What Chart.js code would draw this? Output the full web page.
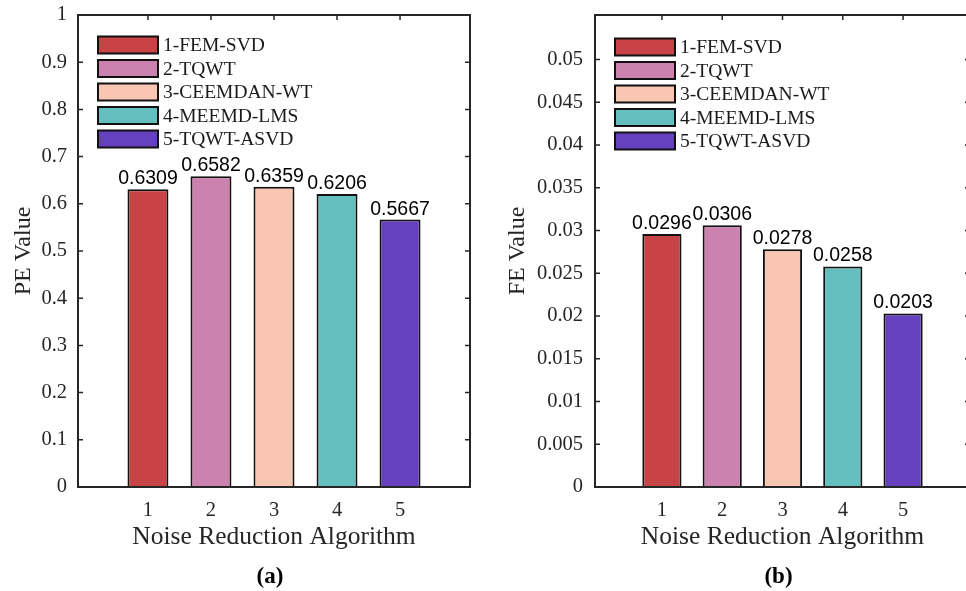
<!DOCTYPE html>
<html>
<head>
<meta charset="utf-8">
<script src="https://cdn.jsdelivr.net/npm/chart.js@4.4.0/dist/chart.umd.min.js"></script>
<style>
  html, body { margin: 0; padding: 0; background: #fff; overflow: hidden; }
  #wrap { position: relative; width: 966px; height: 591px; overflow: hidden; }
  canvas { position: absolute; top: 0; }
  #peChart { left: 0; }
  #feChart { left: 490px; }
</style>
</head>
<body>
<div id="wrap">
  <canvas id="peChart" width="490" height="591"></canvas>
  <canvas id="feChart" width="480" height="591"></canvas>
</div>
<script>
// --- data ---
const algorithms = ['1-FEM-SVD', '2-TQWT', '3-CEEMDAN-WT', '4-MEEMD-LMS', '5-TQWT-ASVD'];
const xTicks = [1, 2, 3, 4, 5];
const peValues = [0.6309, 0.6582, 0.6359, 0.6206, 0.5667];
const feValues = [0.0296, 0.0306, 0.0278, 0.0258, 0.0203];
const peTicks = [0, 0.1, 0.2, 0.3, 0.4, 0.5, 0.6, 0.7, 0.8, 0.9, 1];
const feTicks = [0, 0.005, 0.01, 0.015, 0.02, 0.025, 0.03, 0.035, 0.04, 0.045, 0.05];
const barColors = ['#C84346', '#CB82AE', '#F9C6B3', '#64BFBE', '#6541BF'];

const SERIF = '"Liberation Serif", "Times New Roman", serif';
const SANS = '"Liberation Sans", Arial, sans-serif';
const AXIS_COLOR = '#262626';

// MATLAB-like axes: inward ticks on all four sides, full box, in-axes legend, value labels
const matlabAxes = {
    id: 'matlabAxes',
    beforeDatasetsDraw(chart) {
        const { ctx, chartArea: ca, scales } = chart;
        const len = 5;
        ctx.save();
        ctx.strokeStyle = AXIS_COLOR;
        ctx.lineWidth = 1.5;
        ctx.beginPath();
        scales.y.ticks.forEach(t => {
            const y = scales.y.getPixelForValue(t.value);
            ctx.moveTo(ca.left, y); ctx.lineTo(ca.left + len, y);
            ctx.moveTo(ca.right, y); ctx.lineTo(ca.right - len, y);
        });
        scales.x.ticks.forEach(t => {
            const x = scales.x.getPixelForValue(t.value);
            ctx.moveTo(x, ca.bottom); ctx.lineTo(x, ca.bottom - len);
            ctx.moveTo(x, ca.top); ctx.lineTo(x, ca.top + len);
        });
        ctx.stroke();
        ctx.restore();
    },
    afterDatasetsDraw(chart) {
        const { ctx, chartArea: ca } = chart;
        ctx.save();
        ctx.strokeStyle = AXIS_COLOR;
        ctx.lineWidth = 2;
        ctx.strokeRect(ca.left, ca.top, ca.right - ca.left, ca.bottom - ca.top);

        // value labels on top of bars
        const meta = chart.getDatasetMeta(0);
        const values = chart.data.datasets[0].data;
        ctx.fillStyle = '#000';
        ctx.font = '19.5px ' + SANS;
        ctx.textAlign = 'center';
        ctx.textBaseline = 'alphabetic';
        meta.data.forEach((bar, i) => {
            ctx.fillText(values[i].y.toFixed(4), bar.x, bar.y - 5);
        });
        ctx.restore();
    },
    afterDraw(chart) {
        const { ctx, chartArea: ca } = chart;
        const opts = chart.options.plugins.matlabAxes;
        ctx.save();
        // legend
        ctx.font = '19.5px ' + SERIF;
        ctx.textAlign = 'left';
        ctx.textBaseline = 'middle';
        algorithms.forEach((name, i) => {
            const cy = ca.top + opts.legendTop + i * 23.5;
            const x0 = ca.left + 20;
            ctx.fillStyle = barColors[i];
            ctx.fillRect(x0, cy - 8.5, 60, 17);
            ctx.strokeStyle = '#111';
            ctx.lineWidth = 2;
            ctx.strokeRect(x0, cy - 8.5, 60, 17);
            ctx.fillStyle = '#1a1a1a';
            ctx.fillText(name, x0 + 65, cy + 1);
        });
        // panel tag
        ctx.font = 'bold 23px ' + SERIF;
        ctx.textAlign = 'center';
        ctx.fillStyle = '#000';
        ctx.fillText(opts.tag, (ca.left + ca.right) / 2 - 4, chart.height - 14);
        ctx.restore();
    }
};

function fmt(v) {
    return String(+v.toFixed(4));
}

function renderPanel(canvasId, values, yTicks, yMax, yTitle, cfg) {
    const canvas = document.getElementById(canvasId);
    return new Chart(canvas, {
        type: 'bar',
        data: {
            datasets: [{
                data: xTicks.map((x, i) => ({ x: x, y: values[i] })),
                backgroundColor: barColors,
                borderColor: '#111',
                borderWidth: 2,
                categoryPercentage: 1,
                barPercentage: 0.65,
            }]
        },
        options: {
            responsive: false,
            animation: false,
            devicePixelRatio: 1,
            events: [],
            layout: { padding: { left: 0, top: 15, right: cfg.padRight, bottom: 0 } },
            plugins: {
                legend: { display: false },
                tooltip: { enabled: false },
                matlabAxes: { legendTop: cfg.legendTop, tag: cfg.tag },
            },
            scales: {
                x: {
                    type: 'linear',
                    offset: false,
                    min: -0.11,
                    max: 6.11,
                    afterBuildTicks: s => { s.ticks = xTicks.map(v => ({ value: v })); },
                    afterFit: s => { s.height = 104; s.paddingLeft = 0; s.paddingRight = 0; },
                    grid: { display: false, drawTicks: false },
                    border: { display: false },
                    ticks: {
                        padding: 11,
                        color: AXIS_COLOR,
                        font: { family: SERIF, size: 20.5 },
                        callback: v => fmt(v),
                    },
                    title: {
                        display: true,
                        text: 'Noise Reduction Algorithm',
                        color: AXIS_COLOR,
                        font: { family: SERIF, size: 25.5 },
                        padding: { top: 0, bottom: 38 },
                    },
                },
                y: {
                    type: 'linear',
                    min: 0,
                    max: yMax,
                    afterBuildTicks: s => { s.ticks = yTicks.map(v => ({ value: v })); },
                    afterFit: s => { s.width = cfg.yWidth; s.paddingTop = 0; s.paddingBottom = 0; },
                    grid: { display: false, drawTicks: false },
                    border: { display: false },
                    ticks: {
                        padding: cfg.tickPad,
                        color: AXIS_COLOR,
                        font: { family: SERIF, size: 20.5 },
                        callback: v => fmt(v),
                    },
                    title: {
                        display: true,
                        text: yTitle,
                        color: AXIS_COLOR,
                        font: { family: SERIF, size: 24 },
                        padding: { top: cfg.titlePad, bottom: 0 },
                    },
                },
            },
        },
        plugins: [matlabAxes],
    });
}

renderPanel('peChart', peValues, peTicks, 1, 'PE Value',
    { padRight: 20, yWidth: 78, tickPad: 11, titlePad: 9, legendTop: 30, tag: '(a)' });
renderPanel('feChart', feValues, feTicks, 0.0552, 'FE Value',
    { padRight: 0, yWidth: 105, tickPad: 12, titlePad: 13, legendTop: 32, tag: '(b)' });
</script>
</body>
</html>
